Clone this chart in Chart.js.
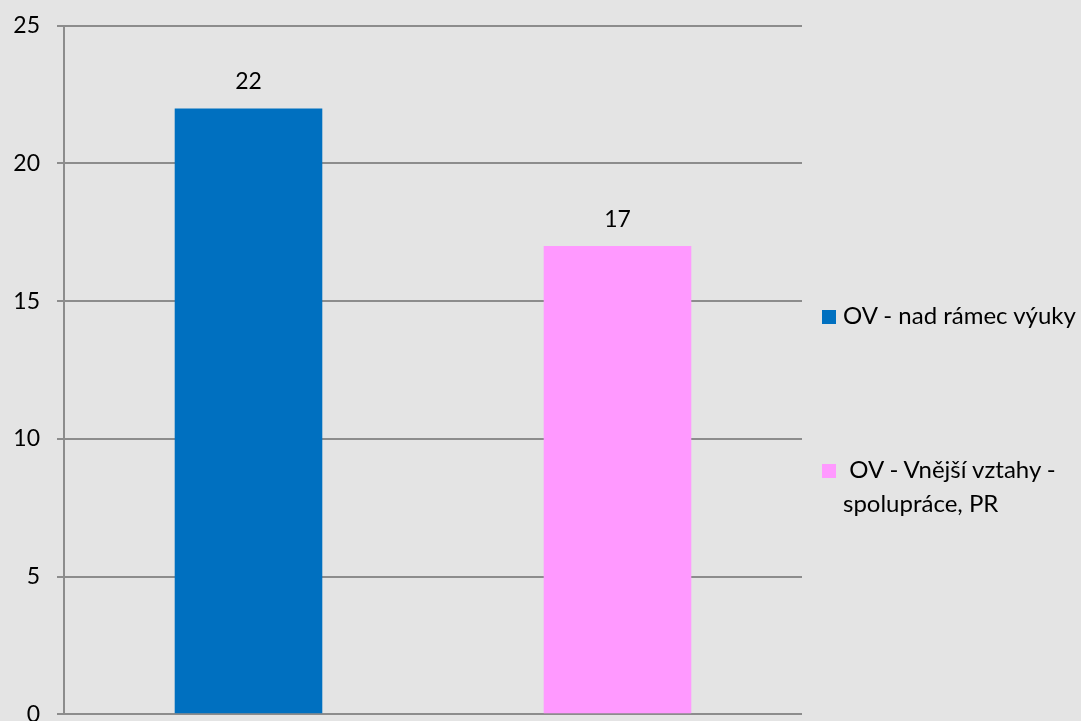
<!DOCTYPE html>
<html><head><meta charset="utf-8">
<script src="https://cdn.jsdelivr.net/npm/chart.js@4.4.0/dist/chart.umd.min.js"></script>
<style>
html,body{margin:0;padding:0;background:#e4e4e4;overflow:hidden;width:1081px;height:721px;}
#c{position:absolute;left:0;top:-5px;}
#legend{position:absolute;left:0;top:0;width:1081px;height:721px;font-family:Lato,sans-serif;font-size:24px;color:#000;line-height:34px;}
.item{position:absolute;left:822px;width:259px;height:80px;}
.box{position:absolute;left:0;width:14px;height:14px;}
.txt{position:absolute;left:21px;top:0;width:238px;white-space:pre-wrap;}
</style></head>
<body>
<canvas id="c" width="1081" height="750" style="width:1081px;height:750px;"></canvas>
<div id="legend"></div>
<script>
const categories = ['OV - nad rámec výuky', ' OV - Vnější vztahy - spolupráce, PR'];
const values = [22, 17];
const barColors = ['#0070C0', '#FF99FF'];
const yTicks = [0, 5, 10, 15, 20, 25];

const FONT = 'Lato, sans-serif';

const valueLabels = {
  id: 'valueLabels',
  afterDatasetsDraw(chart) {
    const ctx = chart.ctx;
    const meta = chart.getDatasetMeta(0);
    ctx.save();
    ctx.font = '23px ' + FONT;
    ctx.fillStyle = '#000';
    ctx.textAlign = 'center';
    ctx.textBaseline = 'alphabetic';
    meta.data.forEach((bar, i) => {
      ctx.fillText(String(values[i]), bar.x, bar.y - 19);
    });
    ctx.restore();
  }
};

new Chart(document.getElementById('c'), {
  type: 'bar',
  data: {
    labels: categories,
    datasets: [{
      data: values,
      backgroundColor: barColors,
      borderWidth: 0,
      barPercentage: 0.4,
      categoryPercentage: 1
    }]
  },
  options: {
    responsive: false,
    maintainAspectRatio: false,
    devicePixelRatio: 1,
    animation: false,
    layout: { padding: { top: 26, bottom: 26, left: 0, right: 279 } },
    plugins: { legend: { display: false }, tooltip: { enabled: false } },
    scales: {
      x: { display: false },
      y: {
        min: 0, max: 25,
        afterFit(scale) { scale.width = 64; },
        afterBuildTicks(scale) { scale.ticks = yTicks.map(v => ({ value: v })); },
        ticks: { color: '#000', padding: 17, font: { family: FONT, size: 23 } },
        grid: { color: '#8c8c8c', lineWidth: 2, tickLength: 7, drawTicks: true },
        border: { color: '#8c8c8c', width: 2 }
      }
    }
  },
  plugins: [valueLabels]
});

const legend = document.getElementById('legend');
const itemTops = [298, 452];
categories.forEach((name, i) => {
  const item = document.createElement('div');
  item.className = 'item';
  item.style.top = itemTops[i] + 'px';
  const box = document.createElement('div');
  box.className = 'box';
  box.style.top = '12px';
  box.style.background = barColors[i];
  const txt = document.createElement('div');
  txt.className = 'txt';
  txt.textContent = name;
  item.appendChild(box);
  item.appendChild(txt);
  legend.appendChild(item);
});
</script>
</body></html>
